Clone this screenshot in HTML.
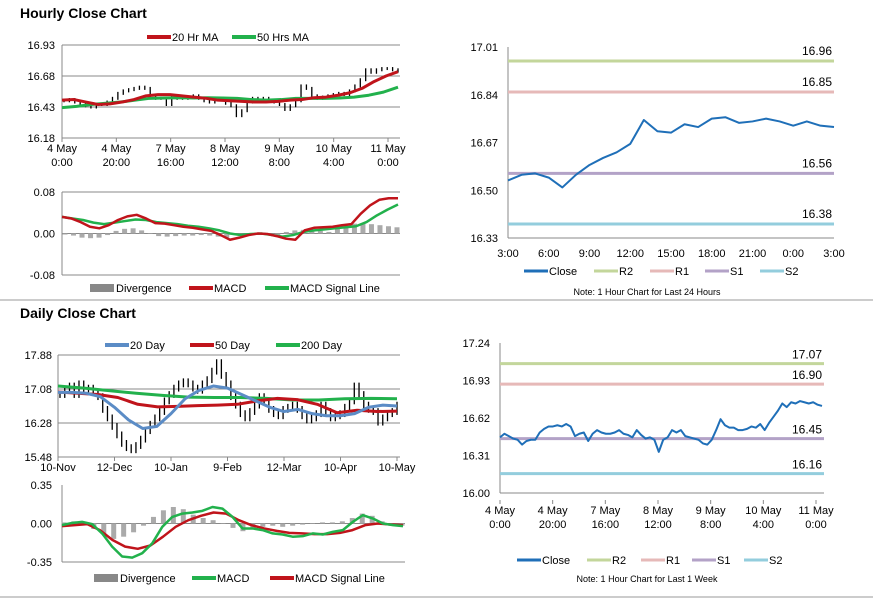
<!DOCTYPE html>
<html><head><meta charset="utf-8"><style>
html,body{margin:0;padding:0;background:#fff;}
svg{display:block;font-family:"Liberation Sans",Arial,sans-serif;}
</style></head><body>
<svg id="c" width="873" height="601" viewBox="0 0 873 601" xmlns="http://www.w3.org/2000/svg">
<rect x="0" y="0" width="873" height="601" fill="#fff"/>
<text x="20" y="18" font-size="14" font-weight="bold" fill="#000">Hourly Close Chart</text>
<text x="20" y="318" font-size="14" font-weight="bold" fill="#000">Daily Close Chart</text>
<line x1="0" y1="300" x2="873" y2="300" stroke="#999" stroke-width="1"/>
<line x1="0" y1="597" x2="873" y2="597" stroke="#999" stroke-width="1"/>
</svg>
<script>
// ---------- data ----------
const hTicks = ["4 May|0:00","4 May|20:00","7 May|16:00","8 May|12:00","9 May|8:00","10 May|4:00","11 May|0:00"];
const hClose = [16.48,16.49,16.47,16.46,16.44,16.43,16.45,16.45,16.47,16.50,16.54,16.56,16.57,16.58,16.59,16.58,16.52,16.50,16.50,16.45,16.52,16.50,16.50,16.51,16.52,16.50,16.48,16.47,16.50,16.49,16.46,16.44,16.36,16.40,16.47,16.50,16.49,16.50,16.48,16.47,16.45,16.41,16.44,16.48,16.60,16.58,16.52,16.50,16.51,16.52,16.53,16.54,16.53,16.56,16.60,16.65,16.73,16.71,16.73,16.74,16.74,16.73,16.72];
const hMA20 = [16.485,16.49,16.47,16.45,16.455,16.47,16.49,16.52,16.53,16.53,16.52,16.51,16.50,16.485,16.48,16.475,16.47,16.47,16.475,16.485,16.49,16.505,16.51,16.525,16.545,16.58,16.635,16.68,16.715];
const hMA50 = [16.425,16.435,16.45,16.46,16.47,16.485,16.50,16.503,16.505,16.503,16.505,16.503,16.50,16.49,16.485,16.49,16.50,16.50,16.50,16.503,16.51,16.525,16.55,16.59];
const hMacd = [0.032,0.029,0.022,0.013,0.010,0.016,0.026,0.033,0.036,0.029,0.020,0.019,0.016,0.013,0.011,0.008,0.005,-0.003,-0.012,-0.008,-0.003,0.0,-0.001,-0.005,-0.010,-0.012,0.006,0.011,0.012,0.013,0.016,0.018,0.038,0.054,0.065,0.068,0.068];
const hSignal = [0.032,0.029,0.026,0.021,0.018,0.021,0.024,0.027,0.026,0.022,0.020,0.018,0.015,0.013,0.010,0.006,0.0,-0.003,-0.001,0.0,-0.003,-0.006,-0.003,0.003,0.006,0.008,0.010,0.012,0.014,0.022,0.035,0.046,0.056];
const hDiv = [-0.002,-0.004,-0.008,-0.009,-0.008,-0.003,0.005,0.009,0.010,0.006,0.0,-0.005,-0.006,-0.005,-0.004,-0.004,-0.003,-0.004,-0.006,-0.008,-0.003,0.0,0.001,-0.001,-0.002,-0.005,0.003,0.006,0.007,0.007,0.005,0.003,0.010,0.016,0.019,0.020,0.018,0.016,0.014,0.012];

const pTicks = ["3:00","6:00","9:00","12:00","15:00","18:00","21:00","0:00","3:00"];
const pClose = [16.535,16.555,16.56,16.545,16.51,16.555,16.59,16.615,16.635,16.665,16.75,16.71,16.705,16.735,16.725,16.755,16.76,16.74,16.745,16.755,16.745,16.73,16.745,16.73,16.725];
const pLevels = [16.96,16.85,16.56,16.38];

const wClose = [16.46,16.49,16.47,16.45,16.44,16.40,16.43,16.44,16.44,16.50,16.53,16.55,16.55,16.56,16.55,16.57,16.55,16.47,16.49,16.50,16.43,16.49,16.52,16.50,16.49,16.49,16.50,16.52,16.49,16.48,16.46,16.52,16.48,16.45,16.46,16.44,16.34,16.44,16.46,16.52,16.50,16.52,16.47,16.46,16.45,16.44,16.41,16.40,16.44,16.52,16.61,16.56,16.54,16.54,16.52,16.52,16.53,16.55,16.54,16.57,16.52,16.58,16.63,16.68,16.74,16.71,16.75,16.74,16.76,16.75,16.74,16.75,16.73,16.72];
const wLevels = [17.07,16.90,16.45,16.16];
const wTicks = ["4 May|0:00","4 May|20:00","7 May|16:00","8 May|12:00","9 May|8:00","10 May|4:00","11 May|0:00"];

const dTicks = ["10-Nov","12-Dec","10-Jan","9-Feb","12-Mar","10-Apr","10-May"];
const dClose = [16.95,17.05,17.15,16.95,17.2,17.05,17.1,17.0,16.9,16.6,16.4,16.2,16.0,15.8,15.7,15.65,15.75,15.9,16.1,16.25,16.4,16.55,16.8,16.95,17.1,17.2,17.25,17.2,17.1,17.05,17.2,17.3,17.5,17.7,17.4,17.2,16.9,16.7,16.5,16.4,16.55,16.7,16.9,16.8,16.6,16.5,16.45,16.6,16.65,16.7,16.6,16.45,16.35,16.4,16.5,16.7,16.55,16.4,16.45,16.5,16.65,16.8,17.15,16.95,16.7,16.6,16.55,16.3,16.4,16.5,16.55,16.7];
const d20 = [17.0,17.0,16.98,16.9,16.65,16.35,16.15,16.2,16.5,16.85,17.05,17.15,17.1,16.95,16.8,16.65,16.55,16.6,16.5,16.45,16.45,16.5,16.65,16.7,16.68];
const d50 = [17.01,16.98,16.95,16.88,16.72,16.66,16.67,16.69,16.70,16.72,16.80,16.86,16.83,16.72,16.52,16.58,16.55,16.56];
const d200 = [17.15,17.1,17.04,16.98,16.93,16.89,16.88,16.88,16.86,16.82,16.82,16.85,16.86,16.85];
const dMacd = [-0.015,0.005,0.015,-0.005,-0.09,-0.21,-0.30,-0.31,-0.27,-0.18,-0.03,0.06,0.09,0.10,0.115,0.15,0.135,0.06,-0.045,-0.045,-0.06,-0.09,-0.10,-0.12,-0.115,-0.09,-0.10,-0.076,-0.06,0.015,0.076,0.045,0.0,-0.015,-0.024];
const dSignal = [-0.024,-0.015,-0.006,-0.06,-0.15,-0.21,-0.23,-0.20,-0.12,-0.03,0.03,0.07,0.10,0.09,0.03,-0.015,-0.045,-0.067,-0.085,-0.09,-0.097,-0.097,-0.085,-0.06,-0.015,0.0,-0.009,-0.015];
const dDiv = [0.01,0.02,0.0,-0.05,-0.10,-0.14,-0.12,-0.08,-0.02,0.06,0.12,0.15,0.13,0.08,0.05,0.03,0.0,-0.04,-0.07,-0.05,-0.03,-0.02,-0.03,-0.02,-0.01,0.0,0.01,0.01,0.02,0.05,0.09,0.07,0.02,-0.01,-0.02];

// ---------- helpers ----------
const NS="http://www.w3.org/2000/svg";
const svg=document.getElementById('c');
function mk(tag,attrs){const e=document.createElementNS(NS,tag);for(const k in attrs)e.setAttribute(k,attrs[k]);svg.appendChild(e);return e;}
function lin(d0,d1,r0,r1){return v=>r0+(v-d0)/(d1-d0)*(r1-r0);}
function txt(x,y,s,anchor,size){const t=mk('text',{x:x,y:y,'font-size':size||11,'text-anchor':anchor||'start',fill:'#000'});t.textContent=s;return t;}
function poly(arr,xs,ys,color,w,name){
  const pts=arr.map((v,i)=>xs(i)+','+ys(v)).join(' ');
  const p=mk('polyline',{points:pts,fill:'none',stroke:color,'stroke-width':w,'stroke-linejoin':'round'});
  
  
  return p;
}
function legendLine(x,y,color,label,w){
  const l=mk('line',{x1:x,y1:y,x2:x+24,y2:y,stroke:color,'stroke-width':w||4});
  
  
  const t=txt(x+25,y+4,label);
  
  
}
function legendBox(x,y,color,label){
  const r=mk('rect',{x:x,y:y-4,width:24,height:8,fill:color});
  
  
  const t=txt(x+26,y+4,label);
  
  
}
function hline(x1,x2,y,color,w,name){
  const l=mk('line',{x1:x1,y1:y,x2:x2,y2:y,stroke:color,'stroke-width':w});
  
  
  return l;
}
function vline(x,y1,y2,color,w,name){
  const l=mk('line',{x1:x,y1:y1,x2:x,y2:y2,stroke:color,'stroke-width':w});
  
  
  return l;
}
function yLabels(vals,ys,x,fmt){
  vals.forEach(v=>{const t=txt(x,ys(v)+4,fmt(v),'end');
    
    });
}
function xLabels(labels,x0,x1,y,n){
  labels.forEach((s,i)=>{
    const x=x0+i*(x1-x0)/(labels.length-1);
    const parts=s.split('|');
    parts.forEach((p,j)=>{const t=txt(x,y+j*14,p,'middle');
      
      });
    vline(x,y-14,y-10,'#888',1,'x-tick');
  });
}
function bars(arr,x0,x1,ys,color,w,name){
  arr.forEach((v,i)=>{
    const x=x0+i*(x1-x0)/(arr.length-1);
    const y0=ys(0),y=ys(v);
    const r=mk('rect',{x:x-w/2,y:Math.min(y0,y),width:w,height:Math.max(0.5,Math.abs(y-y0)),fill:color});
    
    
  });
}
function priceBars(arr,x0,x1,ys,spread,name){
  arr.forEach((v,i)=>{
    const x=x0+i*(x1-x0)/(arr.length-1);
    const prev=i>0?arr[i-1]:v;
    const hi=Math.max(v,prev)+spread, lo=Math.min(v,prev)-spread;
    const l=mk('line',{x1:x,y1:ys(hi),x2:x,y2:ys(lo),stroke:'#000','stroke-width':1.3});
    
    
  });
}

// ---------- Hourly price (top-left) ----------
{
  const X0=62,X1=400, ys=lin(16.18,16.93,138,45);
  [16.93,16.68,16.43].forEach(v=>hline(X0,X1,ys(v),'#888',1,'gridline'));
  vline(X0,45,138,'#888',1,'y-axis');
  hline(X0,X1,138,'#888',1,'x-axis');
  yLabels([16.93,16.68,16.43,16.18],ys,55,v=>v.toFixed(2));
  xLabels(hTicks,62,388,152);
  priceBars(hClose,X0+2,X1-2,ys,0.012,'hourly-price-bar');
  poly(hMA50,i=>X0+i*(X1-2-X0)/(hMA50.length-1),ys,'#22b14c',3,'ma50-line');
  poly(hMA20,i=>X0+i*(X1-2-X0)/(hMA20.length-1),ys,'#c0141b',3,'ma20-line');
  legendLine(147,37,'#c0141b','20 Hr MA');
  legendLine(232,37,'#22b14c','50 Hrs MA');
}
// ---------- Hourly MACD ----------
{
  const X0=62,X1=400, ys=lin(-0.08,0.08,275,192);
  [0.08,-0.08].forEach(v=>hline(X0,X1,ys(v),'#888',1,'gridline'));
  hline(X0,X1,ys(0),'#888',1,'zero-line');
  vline(X0,192,275,'#888',1,'y-axis');
  yLabels([0.08,0,-0.08],ys,55,v=>v.toFixed(2));
  bars(hDiv,X0+3,X1-3,ys,'#aaa',5,'divergence-bar');
  poly(hSignal,i=>X0+i*(X1-2-X0)/(hSignal.length-1),ys,'#22b14c',2.5,'macd-signal-line');
  poly(hMacd,i=>X0+i*(X1-2-X0)/(hMacd.length-1),ys,'#c0141b',2.5,'macd-line');
  legendBox(90,288,'#888','Divergence');
  legendLine(189,288,'#c0141b','MACD');
  legendLine(265,288,'#22b14c','MACD Signal Line');
}
// ---------- 24h pivot (top-right) ----------
{
  const X0=508,X1=834, ys=lin(16.33,17.01,238,47);
  vline(X0,47,238,'#888',1,'y-axis');
  hline(X0,X1,238,'#888',1,'x-axis');
  yLabels([17.01,16.84,16.67,16.50,16.33],ys,498,v=>v.toFixed(2));
  pTicks.forEach((s,i)=>{const x=X0+i*(X1-X0)/(pTicks.length-1);
    const t=txt(x,257,s,'middle');
    
    });
  const cols=['#c3d69b','#e6b9b8','#b3a2c7','#93cddd'];
  const nm=['r2','r1','s1','s2'];
  pLevels.forEach((v,i)=>{hline(X0,X1,ys(v),cols[i],3,nm[i]+'-line');
    const t=txt(X1-2,ys(v)-6,v.toFixed(2),'end',12);
    
    });
  poly(pClose,i=>X0+i*(X1-X0)/(pClose.length-1),ys,'#1f6fb8',2,'close-line');
  legendLine(524,271,'#1f6fb8','Close',3);
  legendLine(594,271,cols[0],'R2',3);
  legendLine(650,271,cols[1],'R1',3);
  legendLine(705,271,cols[2],'S1',3);
  legendLine(760,271,cols[3],'S2',3);
  const n=txt(647,295,'Note: 1 Hour Chart for Last 24 Hours','middle',9);
  
  
}
// ---------- Daily price ----------
{
  const X0=58,X1=400, ys=lin(15.48,17.88,457,355);
  [17.88,17.08,16.28].forEach(v=>hline(X0,X1,ys(v),'#888',1,'gridline'));
  vline(X0,355,457,'#888',1,'y-axis');
  hline(X0,X1,457,'#888',1,'x-axis');
  yLabels([17.88,17.08,16.28,15.48],ys,52,v=>v.toFixed(2));
  xLabels(dTicks,58,397,471);
  priceBars(dClose,X0+2,X1-3,ys,0.08,'daily-price-bar');
  poly(d200,i=>X0+i*(X1-3-X0)/(d200.length-1),ys,'#22b14c',3,'ma200-line');
  poly(d50,i=>X0+i*(X1-3-X0)/(d50.length-1),ys,'#c0141b',3,'ma50-day-line');
  poly(d20,i=>X0+i*(X1-3-X0)/(d20.length-1),ys,'#5b8cc6',3,'ma20-day-line');
  legendLine(105,345,'#5b8cc6','20 Day');
  legendLine(190,345,'#c0141b','50 Day');
  legendLine(276,345,'#22b14c','200 Day');
}
// ---------- Daily MACD ----------
{
  const X0=62,X1=405, ys=lin(-0.35,0.35,562,485);
  hline(X0,X1,ys(0),'#888',1,'zero-line');
  vline(X0,485,562,'#888',1,'y-axis');
  hline(X0,X1,562,'#888',1,'x-axis');
  yLabels([0.35,0,-0.35],ys,52,v=>v.toFixed(2));
  bars(dDiv,X0+2,X1-3,ys,'#aaa',5,'divergence-bar');
  poly(dSignal,i=>X0+i*(X1-2-X0)/(dSignal.length-1),ys,'#c0141b',2.5,'macd-signal-line');
  poly(dMacd,i=>X0+i*(X1-2-X0)/(dMacd.length-1),ys,'#22b14c',2.5,'macd-line');
  legendBox(94,578,'#888','Divergence');
  legendLine(192,578,'#22b14c','MACD');
  legendLine(270,578,'#c0141b','MACD Signal Line');
}
// ---------- Weekly pivot (bottom-right) ----------
{
  const X0=500,X1=824, ys=lin(16.00,17.24,493,343);
  vline(X0,343,493,'#888',1,'y-axis');
  hline(X0,X1,493,'#888',1,'x-axis');
  yLabels([17.24,16.93,16.62,16.31,16.00],ys,490,v=>v.toFixed(2));
  xLabels(wTicks,500,816,514);
  const cols=['#c3d69b','#e6b9b8','#b3a2c7','#93cddd'];
  const nm=['r2','r1','s1','s2'];
  wLevels.forEach((v,i)=>{hline(X0,X1,ys(v),cols[i],3,nm[i]+'-line');
    const t=txt(X1-2,ys(v)-5,v.toFixed(2),'end',12);
    
    });
  poly(wClose,i=>X0+i*(X1-2-X0)/(wClose.length-1),ys,'#1f6fb8',2,'close-line');
  legendLine(517,560,'#1f6fb8','Close',3);
  legendLine(587,560,cols[0],'R2',3);
  legendLine(641,560,cols[1],'R1',3);
  legendLine(692,560,cols[2],'S1',3);
  legendLine(744,560,cols[3],'S2',3);
  const n=txt(647,582,'Note: 1 Hour Chart for Last 1 Week','middle',9);
  
  
}
</script>
</body></html>
